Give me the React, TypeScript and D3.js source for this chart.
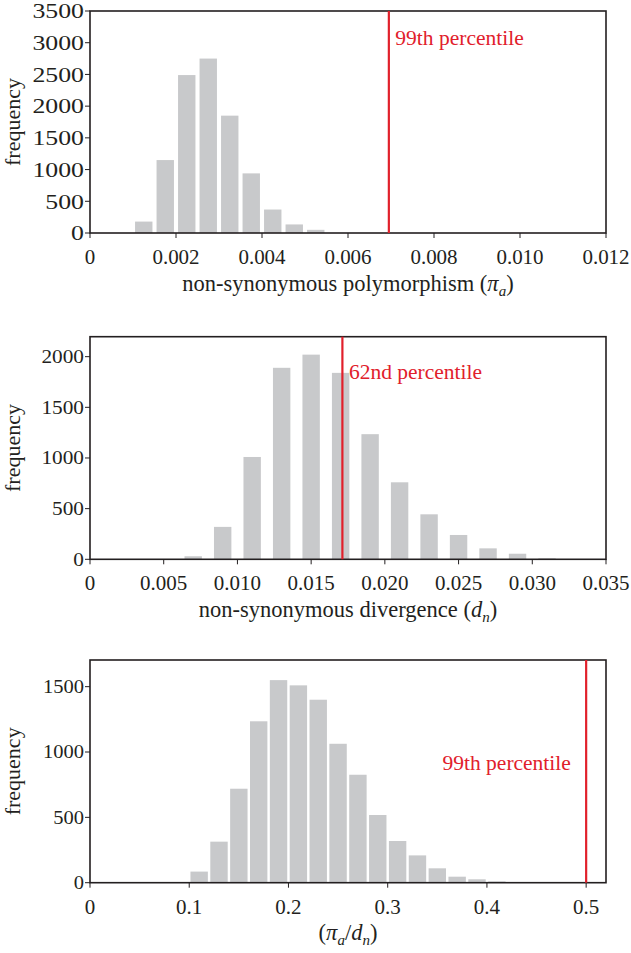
import React from "react";
import * as d3 from "d3";

// ---------- data ----------
// Panel 1: non-synonymous polymorphism (pi_a)
const polyBinStarts = [0.001, 0.0015, 0.002, 0.0025, 0.003, 0.0035, 0.004, 0.0045, 0.005];
const polyCounts = [180, 1150, 2490, 2750, 1850, 940, 370, 135, 50];
const polyBinWidth = 0.0005;
const polyXTicks = [0, 0.002, 0.004, 0.006, 0.008, 0.01, 0.012];
const polyXTickLabels = ["0", "0.002", "0.004", "0.006", "0.008", "0.010", "0.012"];
const polyYTicks = [0, 500, 1000, 1500, 2000, 2500, 3000, 3500];
const polyPercentile = 0.00695;
const polyPercentileLabel = "99th percentile";

// Panel 2: non-synonymous divergence (d_n)
const divBinStarts = [0.006, 0.008, 0.01, 0.012, 0.014, 0.016, 0.018, 0.02, 0.022, 0.024, 0.026, 0.028, 0.03];
const divCounts = [30, 320, 1010, 1890, 2020, 1840, 1235, 760, 444, 240, 108, 55, 10];
const divBinWidth = 0.002;
const divXTicks = [0, 0.005, 0.01, 0.015, 0.02, 0.025, 0.03, 0.035];
const divXTickLabels = ["0", "0.005", "0.010", "0.015", "0.020", "0.025", "0.030", "0.035"];
const divYTicks = [0, 500, 1000, 1500, 2000];
const divPercentile = 0.01712;
const divPercentileLabel = "62nd percentile";

// Panel 3: ratio (pi_a / d_n)
const ratioBinStarts = [0.1, 0.12, 0.14, 0.16, 0.18, 0.2, 0.22, 0.24, 0.26, 0.28, 0.3, 0.32, 0.34, 0.36, 0.38, 0.4];
const ratioCounts = [85, 314, 719, 1235, 1550, 1510, 1400, 1063, 826, 518, 319, 209, 110, 46, 26, 10];
const ratioBinWidth = 0.02;
const ratioXTicks = [0, 0.1, 0.2, 0.3, 0.4, 0.5];
const ratioXTickLabels = ["0", "0.1", "0.2", "0.3", "0.4", "0.5"];
const ratioYTicks = [0, 500, 1000, 1500];
const ratioPercentile = 0.5;
const ratioPercentileLabel = "99th percentile";

// ---------- style ----------
const FONT = "'Liberation Serif', 'Times New Roman', 'DejaVu Serif', serif";
const BAR = "#c8c9cb";
const RED = "#e1202b";
const INK = "#231f20";
const LEFT = 90;
const RIGHT = 606;
const BAR_W = 17.4;

type PanelProps = {
  top: number;
  bottom: number;
  xMax: number;
  yMax: number;
  binStarts: number[];
  counts: number[];
  binWidth: number;
  xTicks: number[];
  xTickLabels: string[];
  yTicks: number[];
  yFont: number;
  ySx: number;
  percentile: number;
  pLabel: string;
  pLabelDx: number;
  pLabelY: number;
  pAnchor: "start" | "end";
  title: React.ReactNode;
};

function Panel(p: PanelProps) {
  const x = d3.scaleLinear().domain([0, p.xMax]).range([LEFT, RIGHT]);
  const y = d3.scaleLinear().domain([0, p.yMax]).range([p.bottom, p.top]);
  const px = x(p.percentile);
  return (
    <g>
      {p.binStarts.map((b, i) => {
        const cx = (x(b) + x(b + p.binWidth)) / 2;
        return (
          <rect
            key={i}
            x={cx - BAR_W / 2}
            y={y(p.counts[i])}
            width={BAR_W}
            height={p.bottom - y(p.counts[i])}
            fill={BAR}
          />
        );
      })}
      {/* frame */}
      <rect
        x={LEFT}
        y={p.top}
        width={RIGHT - LEFT}
        height={p.bottom - p.top}
        fill="none"
        stroke={INK}
        strokeWidth={1.6}
      />
      {/* x ticks */}
      {p.xTicks.map((t, i) => (
        <g key={"x" + i}>
          <line x1={x(t)} x2={x(t)} y1={p.bottom} y2={p.bottom + 5} stroke={INK} strokeWidth={1} />
          <text
            transform={`translate(${x(t)},${p.bottom + 31}) scale(1.05,1)`}
            textAnchor="middle"
            fontFamily={FONT}
            fontSize={20}
            fill={INK}
          >
            {p.xTickLabels[i]}
          </text>
        </g>
      ))}
      {/* y ticks */}
      {p.yTicks.map((t, i) => (
        <g key={"y" + i}>
          <line x1={LEFT - 5} x2={LEFT} y1={y(t)} y2={y(t)} stroke={INK} strokeWidth={1} />
          <text
            transform={`translate(${LEFT - 6},${y(t) + p.yFont * 0.34}) scale(${p.ySx},1)`}
            textAnchor="end"
            fontFamily={FONT}
            fontSize={p.yFont}
            fill={INK}
          >
            {t}
          </text>
        </g>
      ))}
      {/* percentile line */}
      <line x1={px} x2={px} y1={p.top} y2={p.bottom} stroke={RED} strokeWidth={2.2} />
      <text
        x={px + p.pLabelDx}
        y={p.pLabelY}
        textAnchor={p.pAnchor}
        fontFamily={FONT}
        fontSize={21.5}
        fill={RED}
      >
        {p.pLabel}
      </text>
      {/* y label */}
      <text
        transform={`translate(20,${(p.top + p.bottom) / 2}) rotate(-90)`}
        textAnchor="middle"
        fontFamily={FONT}
        fontSize={22}
        fill={INK}
      >
        frequency
      </text>
      {/* x title */}
      <text
        x={(LEFT + RIGHT) / 2}
        y={p.bottom + 57.5}
        textAnchor="middle"
        fontFamily={FONT}
        fontSize={22.5}
        fill={INK}
      >
        {p.title}
      </text>
    </g>
  );
}

export default function App() {
  return (
    <svg
      width={631}
      height={953}
      style={{ position: "absolute", left: 0, top: 0, background: "#fff" }}
    >
      <rect x={0} y={0} width={631} height={953} fill="#fff" />
      <Panel
        top={11}
        bottom={233}
        xMax={0.012}
        yMax={3500}
        binStarts={polyBinStarts}
        counts={polyCounts}
        binWidth={polyBinWidth}
        xTicks={polyXTicks}
        xTickLabels={polyXTickLabels}
        yTicks={polyYTicks}
        yFont={21.5}
        ySx={1.2}
        percentile={polyPercentile}
        pLabel={polyPercentileLabel}
        pLabelDx={6.5}
        pLabelY={45}
        pAnchor="start"
        title={
          <>
            non-synonymous polymorphism (<tspan fontStyle="italic">π</tspan>
            <tspan fontStyle="italic" fontSize={15} dy={5}>a</tspan>
            <tspan dy={-5}>)</tspan>
          </>
        }
      />
      <Panel
        top={336.7}
        bottom={559.3}
        xMax={0.035}
        yMax={2197}
        binStarts={divBinStarts}
        counts={divCounts}
        binWidth={divBinWidth}
        xTicks={divXTicks}
        xTickLabels={divXTickLabels}
        yTicks={divYTicks}
        yFont={19}
        ySx={1.12}
        percentile={divPercentile}
        pLabel={divPercentileLabel}
        pLabelDx={6.5}
        pLabelY={379.3}
        pAnchor="start"
        title={
          <>
            non-synonymous divergence (<tspan fontStyle="italic">d</tspan>
            <tspan fontStyle="italic" fontSize={15} dy={5}>n</tspan>
            <tspan dy={-5}>)</tspan>
          </>
        }
      />
      <Panel
        top={660}
        bottom={882.7}
        xMax={0.52}
        yMax={1704}
        binStarts={ratioBinStarts}
        counts={ratioCounts}
        binWidth={ratioBinWidth}
        xTicks={ratioXTicks}
        xTickLabels={ratioXTickLabels}
        yTicks={ratioYTicks}
        yFont={19}
        ySx={1.08}
        percentile={ratioPercentile}
        pLabel={ratioPercentileLabel}
        pLabelDx={-15.3}
        pLabelY={770}
        pAnchor="end"
        title={
          <>
            (<tspan fontStyle="italic">π</tspan>
            <tspan fontStyle="italic" fontSize={15} dy={5}>a</tspan>
            <tspan dy={-5}>/</tspan>
            <tspan fontStyle="italic">d</tspan>
            <tspan fontStyle="italic" fontSize={15} dy={5}>n</tspan>
            <tspan dy={-5}>)</tspan>
          </>
        }
      />
    </svg>
  );
}
